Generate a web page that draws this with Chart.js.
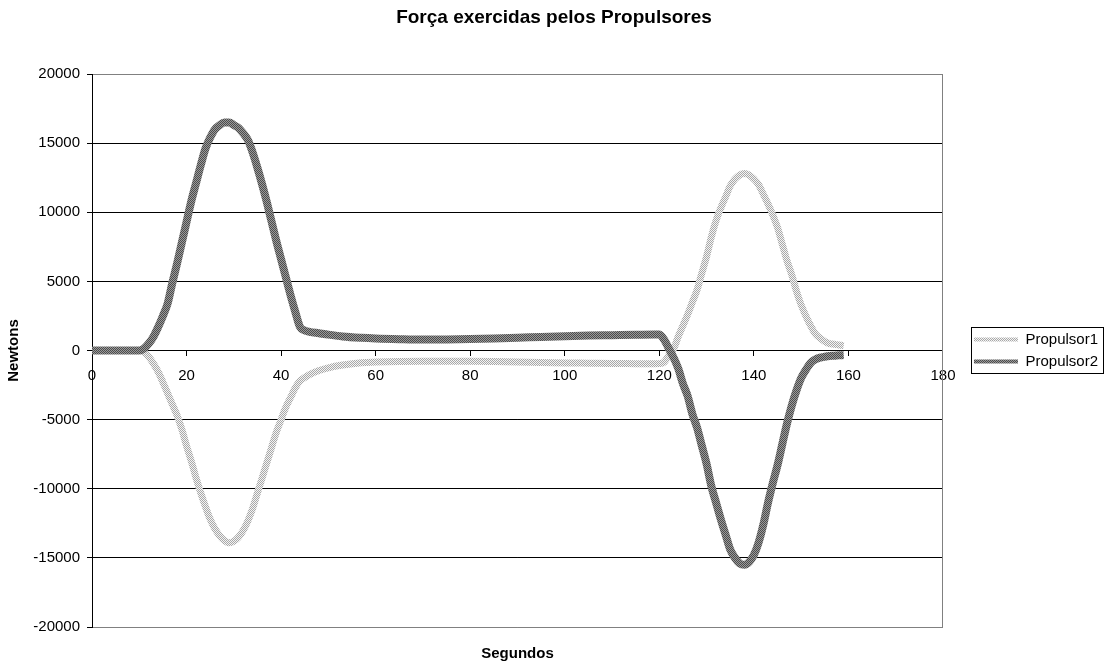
<!DOCTYPE html>
<html>
<head>
<meta charset="utf-8">
<script src="https://cdn.jsdelivr.net/npm/chart.js@4/dist/chart.umd.min.js"></script>
<style>
  html, body { margin: 0; padding: 0; background: #ffffff; }
  canvas { display: block; }
</style>
</head>
<body>
<canvas id="grafico" width="1108" height="666"></canvas>
<script>
// Tempo (s)
const segundos = [
  0, 5, 10,
  11, 12, 13, 14, 15, 16, 17, 18, 19, 20, 21, 22, 23, 24, 25, 26, 27, 28, 29, 30,
  31, 32, 33, 34, 35, 36, 37, 38, 39, 40, 41, 42, 43, 44, 45, 46,
  48, 50, 53, 57, 60, 65, 70, 75, 80, 85, 90, 95, 100, 105, 110, 115, 119, 120,
  121, 122, 123, 124, 125, 126, 127, 128, 129, 130, 131, 132, 133, 134, 135, 136, 137, 138, 139, 140,
  141, 142, 143, 144, 145, 146, 147, 148, 149, 150, 151, 152, 153, 154, 155, 156, 157, 158, 159
];

// Força (N) de cada propulsor
const propulsor1 = [
  0, 0, 0,
  -120, -450, -950, -1550, -2300, -3100, -3900, -4700, -5700, -6900, -8000, -9200, -10300, -11300, -12200, -12900, -13400, -13750, -13900, -13800,
  -13500, -13000, -12300, -11400, -10300, -9200, -8100, -7000, -5900, -5000, -4100, -3400, -2700, -2200, -1950, -1750,
  -1450, -1250, -1050, -880, -840, -800, -780, -770, -780, -800, -830, -870, -900, -920, -940, -950, -960, -950,
  -850, -350, 100, 1000, 1800, 2600, 3500, 4400, 5600, 6800, 8200, 9400, 10300, 11100, 11900, 12400, 12700, 12800, 12700, 12400,
  12000, 11300, 10600, 9800, 8900, 7700, 6500, 5500, 4300, 3300, 2500, 1800, 1200, 900, 650, 500, 450, 400, 350
];

const propulsor2 = [
  0, 0, 0,
  150, 500, 1000, 1700, 2500, 3400, 4900, 6300, 7800, 9300, 10800, 12100, 13400, 14600, 15400, 16000, 16300, 16500, 16500, 16300,
  16100, 15700, 15200, 14300, 13200, 12000, 10700, 9300, 7900, 6600, 5300, 4000, 2800, 1700, 1450, 1350,
  1250, 1150, 1020, 920, 870, 820, 790, 800, 830, 870, 920, 980, 1030, 1080, 1110, 1140, 1160, 1150,
  800, 150, -500, -1300, -2400, -3300, -4600, -5600, -6900, -8200, -9800, -11000, -12200, -13300, -14400, -15000, -15400, -15500, -15300, -14800,
  -13900, -12600, -11000, -9600, -8300, -6800, -5300, -4000, -2900, -2000, -1400, -900, -650, -520, -450, -400, -380, -350, -330
];

const nomes = ['Propulsor1', 'Propulsor2'];

// Texturas pontilhadas das linhas
function textura(c1, c2) {
  const pc = document.createElement('canvas');
  pc.width = 2; pc.height = 2;
  const g = pc.getContext('2d');
  g.fillStyle = c2; g.fillRect(0, 0, 2, 2);
  g.fillStyle = c1; g.fillRect(0, 0, 1, 1); g.fillRect(1, 1, 1, 1);
  return g.createPattern(pc, 'repeat');
}
const texturaClara = textura('#a8a8a8', '#f4f4f4');
const texturaEscura = textura('#4c4c4c', '#9a9a9a');

const pontos = (vals) => segundos.map((t, i) => ({ x: t, y: vals[i] }));

Chart.defaults.font.family = "'Liberation Sans', Arial, sans-serif";
Chart.defaults.font.size = 15;
Chart.defaults.color = '#000000';

// Moldura da legenda
const molduraLegenda = {
  id: 'molduraLegenda',
  afterDraw(chart) {
    const lg = chart.legend;
    if (!lg || !lg.legendHitBoxes || !lg.legendHitBoxes.length) return;
    const hb = lg.legendHitBoxes;
    let l = Infinity, t = Infinity, r = -Infinity, b = -Infinity;
    hb.forEach(h => {
      l = Math.min(l, h.left); t = Math.min(t, h.top);
      r = Math.max(r, h.left + h.width); b = Math.max(b, h.top + h.height);
    });
    const c = chart.ctx;
    c.save();
    c.strokeStyle = '#000000';
    c.lineWidth = 1;
    c.strokeRect(Math.round(l - 3) + 0.5, Math.round(t - 5) + 0.5, Math.round(r - l + 8), Math.round(b - t + 9));
    c.restore();
  }
};

const semSeparador = (v) => String(v);

new Chart(document.getElementById('grafico'), {
  type: 'line',
  data: {
    datasets: [
      {
        label: nomes[0],
        data: pontos(propulsor1),
        borderColor: texturaClara,
        backgroundColor: texturaClara,
        borderWidth: 7,
        pointRadius: 0,
        cubicInterpolationMode: 'monotone',
        order: 1,
        xAxisID: 'x',
        yAxisID: 'y'
      },
      {
        label: nomes[1],
        data: pontos(propulsor2),
        borderColor: texturaEscura,
        backgroundColor: texturaEscura,
        borderWidth: 8,
        pointRadius: 0,
        cubicInterpolationMode: 'monotone',
        order: 0,
        xAxisID: 'x',
        yAxisID: 'y'
      }
    ]
  },
  options: {
    responsive: false,
    animation: false,
    events: [],
    layout: { padding: { top: 0, left: 0, right: 0, bottom: 0 } },
    plugins: {
      title: {
        display: true,
        text: 'Força exercidas pelos Propulsores',
        font: { size: 19, weight: 'bold' },
        color: '#000000',
        padding: { top: 6.8, bottom: 44.4 }
      },
      legend: {
        position: 'right',
        fullSize: false,
        labels: {
          boxWidth: 44,
          boxHeight: 4,
          padding: 7,
          color: '#000000',
          font: { size: 15 },
          sort: (a, b) => a.datasetIndex - b.datasetIndex,
          generateLabels(chart) {
            const itens = Chart.defaults.plugins.legend.labels.generateLabels(chart);
            itens.forEach(it => {
              it.fillStyle = chart.data.datasets[it.datasetIndex].borderColor;
              it.strokeStyle = 'rgba(0,0,0,0)';
              it.lineWidth = 0;
            });
            return itens;
          }
        }
      },
      tooltip: { enabled: false }
    },
    scales: {
      x: {
        type: 'linear',
        position: { y: 0 },
        min: 0,
        max: 180,
        ticks: { stepSize: 20, padding: 11, color: '#000000', font: { size: 15 }, callback: semSeparador },
        grid: { display: true, drawOnChartArea: false, drawTicks: true, tickLength: 5, tickColor: '#000000' },
        border: { display: true, color: '#000000', width: 1 }
      },
      x2: {
        type: 'linear',
        position: 'bottom',
        min: 0,
        max: 180,
        ticks: { display: false },
        grid: { display: false, drawTicks: false },
        border: { display: false },
        title: {
          display: true,
          text: 'Segundos',
          font: { size: 15, weight: 'bold' },
          color: '#000000',
          padding: { top: 18, bottom: 3 }
        }
      },
      y: {
        type: 'linear',
        position: 'left',
        min: -20000,
        max: 20000,
        ticks: { stepSize: 5000, padding: 7, color: '#000000', font: { size: 15 }, callback: semSeparador },
        grid: {
          color: (ctx) => (ctx.tick && Math.abs(ctx.tick.value) === 20000) ? '#808080' : '#000000',
          tickColor: '#000000',
          tickLength: 5,
          lineWidth: 1
        },
        border: { display: true, color: '#000000', width: 1 },
        title: {
          display: true,
          text: 'Newtons',
          font: { size: 15, weight: 'bold' },
          color: '#000000',
          padding: { top: 5, bottom: 0 }
        },
        afterFit(scale) { scale.width = 92; }
      },
      y2: {
        type: 'linear',
        position: 'right',
        min: -20000,
        max: 20000,
        ticks: { display: false },
        grid: { display: false, drawTicks: false },
        border: { display: true, color: '#808080', width: 1 },
        afterFit(scale) { scale.width = 24; }
      }
    }
  },
  plugins: [molduraLegenda]
});
</script>
</body>
</html>
